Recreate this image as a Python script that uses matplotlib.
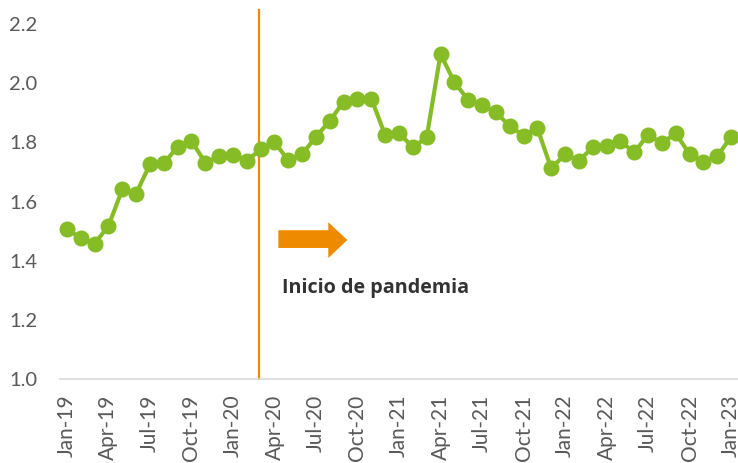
import matplotlib
matplotlib.use("Agg")
import matplotlib.pyplot as plt
from matplotlib.patches import Polygon
import numpy as np

months = ["Jan", "Feb", "Mar", "Apr", "May", "Jun", "Jul", "Aug", "Sep", "Oct", "Nov", "Dec"]
labels = [f"{m}-{y}" for y in ["19", "20", "21", "22"] for m in months] + ["Jan-23"]

values = [1.508, 1.476, 1.458, 1.517, 1.641, 1.627, 1.726, 1.729, 1.785, 1.805, 1.731, 1.753,
          1.758, 1.738, 1.776, 1.801, 1.739, 1.760, 1.819, 1.873, 1.937, 1.948, 1.948, 1.824,
          1.832, 1.783, 1.817, 2.098, 2.004, 1.943, 1.925, 1.902, 1.855, 1.823, 1.848, 1.712,
          1.760, 1.738, 1.783, 1.789, 1.803, 1.767, 1.825, 1.798, 1.830, 1.760, 1.733, 1.753,
          1.819]

GREEN = "#86BC25"
ORANGE = "#EE8A00"
GRAY = "#595959"

plt.rcParams['font.family'] = ['Lato', 'DejaVu Sans']

fig = plt.figure(figsize=(7.38, 4.63), dpi=100)
ax = fig.add_axes([0.0813, 0.1814, 0.9187, 0.7667])

x = np.arange(len(values))
ax.plot(x, values, color=GREEN, lw=3.0, marker='o', markersize=10.5,
        markerfacecolor=GREEN, markeredgecolor=GREEN, zorder=3, clip_on=False)

yt = np.arange(1.0, 2.21, 0.2)
ax.set_xlim(-0.5, len(values) - 0.5)
ax.set_ylim(1.0, 2.2)
ax.set_yticks(yt)
ax.set_yticklabels([f"{v:.1f}" for v in yt])
ax.set_xticks(x[::3])
ax.set_xticklabels(labels[::3], rotation=90)
ax.tick_params(axis='both', length=0, colors=GRAY)
ax.tick_params(axis='y', pad=16.5, labelsize=14.5)
ax.tick_params(axis='x', pad=11, labelsize=15)

for s in ['top', 'right', 'left']:
    ax.spines[s].set_visible(False)
ax.spines['bottom'].set_color('#D9D9D9')
ax.spines['bottom'].set_linewidth(1.2)

# pandemic marker line
ax.plot([13.9, 13.9], [1.0, 2.247], color=ORANGE, lw=1.6, clip_on=False, zorder=2)

# block arrow
arrow_pts = [(15.28, 1.443), (18.89, 1.443), (18.89, 1.409), (20.27, 1.470),
             (18.89, 1.530), (18.89, 1.503), (15.28, 1.503)]
ax.add_patch(Polygon(arrow_pts, closed=True, facecolor=ORANGE, edgecolor='none', zorder=2))

ax.text(15.57, 1.29, "Inicio de pandemia", fontsize=14.2, fontweight='bold',
        family=['Open Sans', 'DejaVu Sans'],
        color="#333333", va='baseline', ha='left')

fig.savefig("out.png", dpi=100)
